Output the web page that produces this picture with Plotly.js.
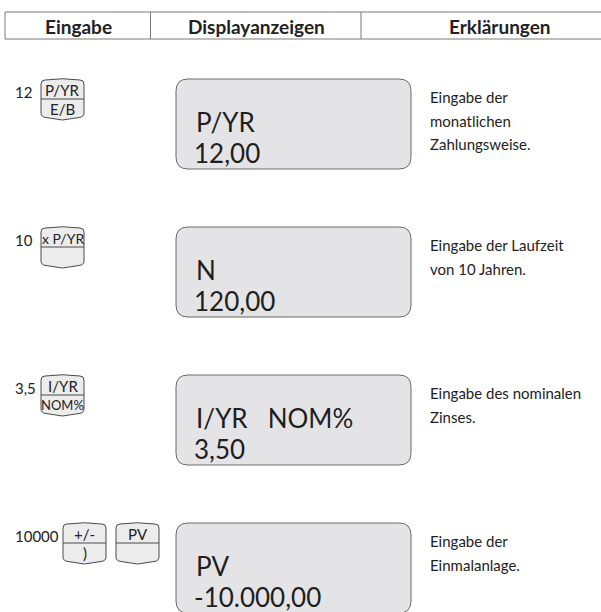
<!DOCTYPE html>
<html>
<head>
<meta charset="utf-8">
<script src="https://cdn.plot.ly/plotly-3.0.1.min.js"></script>
<style>html,body{margin:0;padding:0;background:#fff;}</style>
</head>
<body>
<div id="chart" style="width:601px;height:612px;"></div>
<script>
// ---- data ----
const headers = ['Eingabe', 'Displayanzeigen', 'Erklärungen'];
const inputs = ['12', '10', '3,5', '10000'];
const keyTopLabels = [['P/YR'], ['x P/YR'], ['I/YR'], ['+/-', 'PV']];
const keyBottomLabels = [['E/B'], [''], ['NOM%'], [')', '']];
const displayLabels = ['P/YR', 'N', 'I/YR\u00a0\u00a0\u00a0NOM%', 'PV'];
const displayValues = ['12,00', '120,00', '3,50', '-10.000,00'];
const explanations = [
  ['Eingabe der', 'monatlichen', 'Zahlungsweise.'],
  ['Eingabe der Laufzeit', 'von 10 Jahren.'],
  ['Eingabe des nominalen', 'Zinses.'],
  ['Eingabe der', 'Einmalanlage.']
];

// ---- layout geometry ----
const W = 601, H = 612;
const FONT = 'Lato, "Open Sans", sans-serif';
const rowTop = [79, 227, 375, 523];
const headerTop = 12, headerBottom = 39;
const colEdges = [5, 150.5, 361, 640];
const headerCenters = [78, 256, 500];
const keyLefts = [[41], [41], [41], [63, 116]];
const keyW = 43, keyH = 39;
const boxL = 176, boxR = 411, boxH = 90, boxR0 = 12;

const shapes = [];
const annotations = [];

// header
shapes.push({type: 'rect', xref: 'x', yref: 'y', x0: colEdges[0], x1: colEdges[3], y0: headerTop, y1: headerBottom,
  line: {color: '#7a7a7a', width: 1}, fillcolor: 'rgba(0,0,0,0)'});
[colEdges[1], colEdges[2]].forEach(x => shapes.push({type: 'line', xref: 'x', yref: 'y', x0: x, x1: x, y0: headerTop, y1: headerBottom,
  line: {color: '#7a7a7a', width: 1}}));
headers.forEach((h, i) => annotations.push({xref: 'x', yref: 'y', x: headerCenters[i], y: 26, text: h, showarrow: false,
  xanchor: 'center', yanchor: 'middle', font: {family: FONT, size: 19, color: '#222', weight: 700}}));

function roundRect(x0, y0, x1, y1, r) {
  return `M${x0 + r},${y0} L${x1 - r},${y0} Q${x1},${y0} ${x1},${y0 + r} L${x1},${y1 - r} Q${x1},${y1} ${x1 - r},${y1} ` +
    `L${x0 + r},${y1} Q${x0},${y1} ${x0},${y1 - r} L${x0},${y0 + r} Q${x0},${y0} ${x0 + r},${y0} Z`;
}
function keyPath(L, T) {
  const R = L + keyW, B = T + keyH, m = (L + R) / 2;
  return `M${L},${T + 4} Q${L},${T} ${L + 4},${T} Q${m},${T - 2.5} ${R - 4},${T} Q${R},${T} ${R},${T + 4} ` +
    `L${R},${B - 6} Q${R},${B - 2} ${R - 5},${B - 1.5} L${m},${B + 1} L${L + 5},${B - 1.5} Q${L},${B - 2} ${L},${B - 6} Z`;
}

inputs.forEach((inp, i) => {
  const T = rowTop[i];
  // input number
  annotations.push({xref: 'x', yref: 'y', x: 13, y: T + 13, text: inp, showarrow: false, xanchor: 'left', yanchor: 'middle',
    font: {family: FONT, size: 15, color: '#222'}});
  // keys
  keyLefts[i].forEach((L, k) => {
    const kT = T + 1;
    shapes.push({type: 'path', xref: 'x', yref: 'y', path: keyPath(L, kT), fillcolor: '#ececec', line: {color: '#4a4a4a', width: 1}});
    shapes.push({type: 'line', xref: 'x', yref: 'y', x0: L, x1: L + keyW, y0: kT + 19, y1: kT + 19, line: {color: '#4a4a4a', width: 1}});
    const top = keyTopLabels[i][k], bot = keyBottomLabels[i][k];
    const sizeFor = s => s.length > 4 ? (s.indexOf(' ') >= 0 ? 14 : 12) : 15;
    if (top) annotations.push({xref: 'x', yref: 'y', x: L + keyW / 2, y: kT + 10, text: top, showarrow: false, xanchor: 'center', yanchor: 'middle',
      font: {family: FONT, size: top === 'NOM%' ? 12 : sizeFor(top), color: '#222'}});
    if (bot) annotations.push({xref: 'x', yref: 'y', x: L + keyW / 2, y: kT + 28.5, text: bot, showarrow: false, xanchor: 'center', yanchor: 'middle',
      font: {family: FONT, size: bot === 'NOM%' ? 13 : 15, color: '#222'}});
  });
  // display box
  shapes.push({type: 'path', xref: 'x', yref: 'y', path: roundRect(boxL, T, boxR, T + boxH, boxR0), fillcolor: '#e4e4e6',
    line: {color: '#6a6a6a', width: 1}});
  annotations.push({xref: 'x', yref: 'y', x: 194, y: T + 43, text: displayLabels[i], showarrow: false, xanchor: 'left', yanchor: 'middle',
    font: {family: FONT, size: 26, color: '#1e1e1e'}});
  annotations.push({xref: 'x', yref: 'y', x: 192, y: T + 74, text: displayValues[i], showarrow: false, xanchor: 'left', yanchor: 'middle',
    font: {family: FONT, size: 26, color: '#1e1e1e'}});
  // explanations
  explanations[i].forEach((line, j) => annotations.push({xref: 'x', yref: 'y', x: 428, y: T + 18 + j * 23.5, text: line, showarrow: false,
    xanchor: 'left', yanchor: 'middle', font: {family: FONT, size: 15, color: '#222'}}));
});

const layout = {
  width: W, height: H,
  margin: {l: 0, r: 0, t: 0, b: 0, pad: 0},
  paper_bgcolor: '#fff', plot_bgcolor: '#fff',
  xaxis: {range: [0, W], visible: false, fixedrange: true},
  yaxis: {range: [H, 0], visible: false, fixedrange: true},
  showlegend: false,
  shapes: shapes,
  annotations: annotations
};
Plotly.newPlot('chart', [{type: 'scatter', x: [], y: [], hoverinfo: 'skip'}], layout, {staticPlot: true, displayModeBar: false});
</script>
</body>
</html>
